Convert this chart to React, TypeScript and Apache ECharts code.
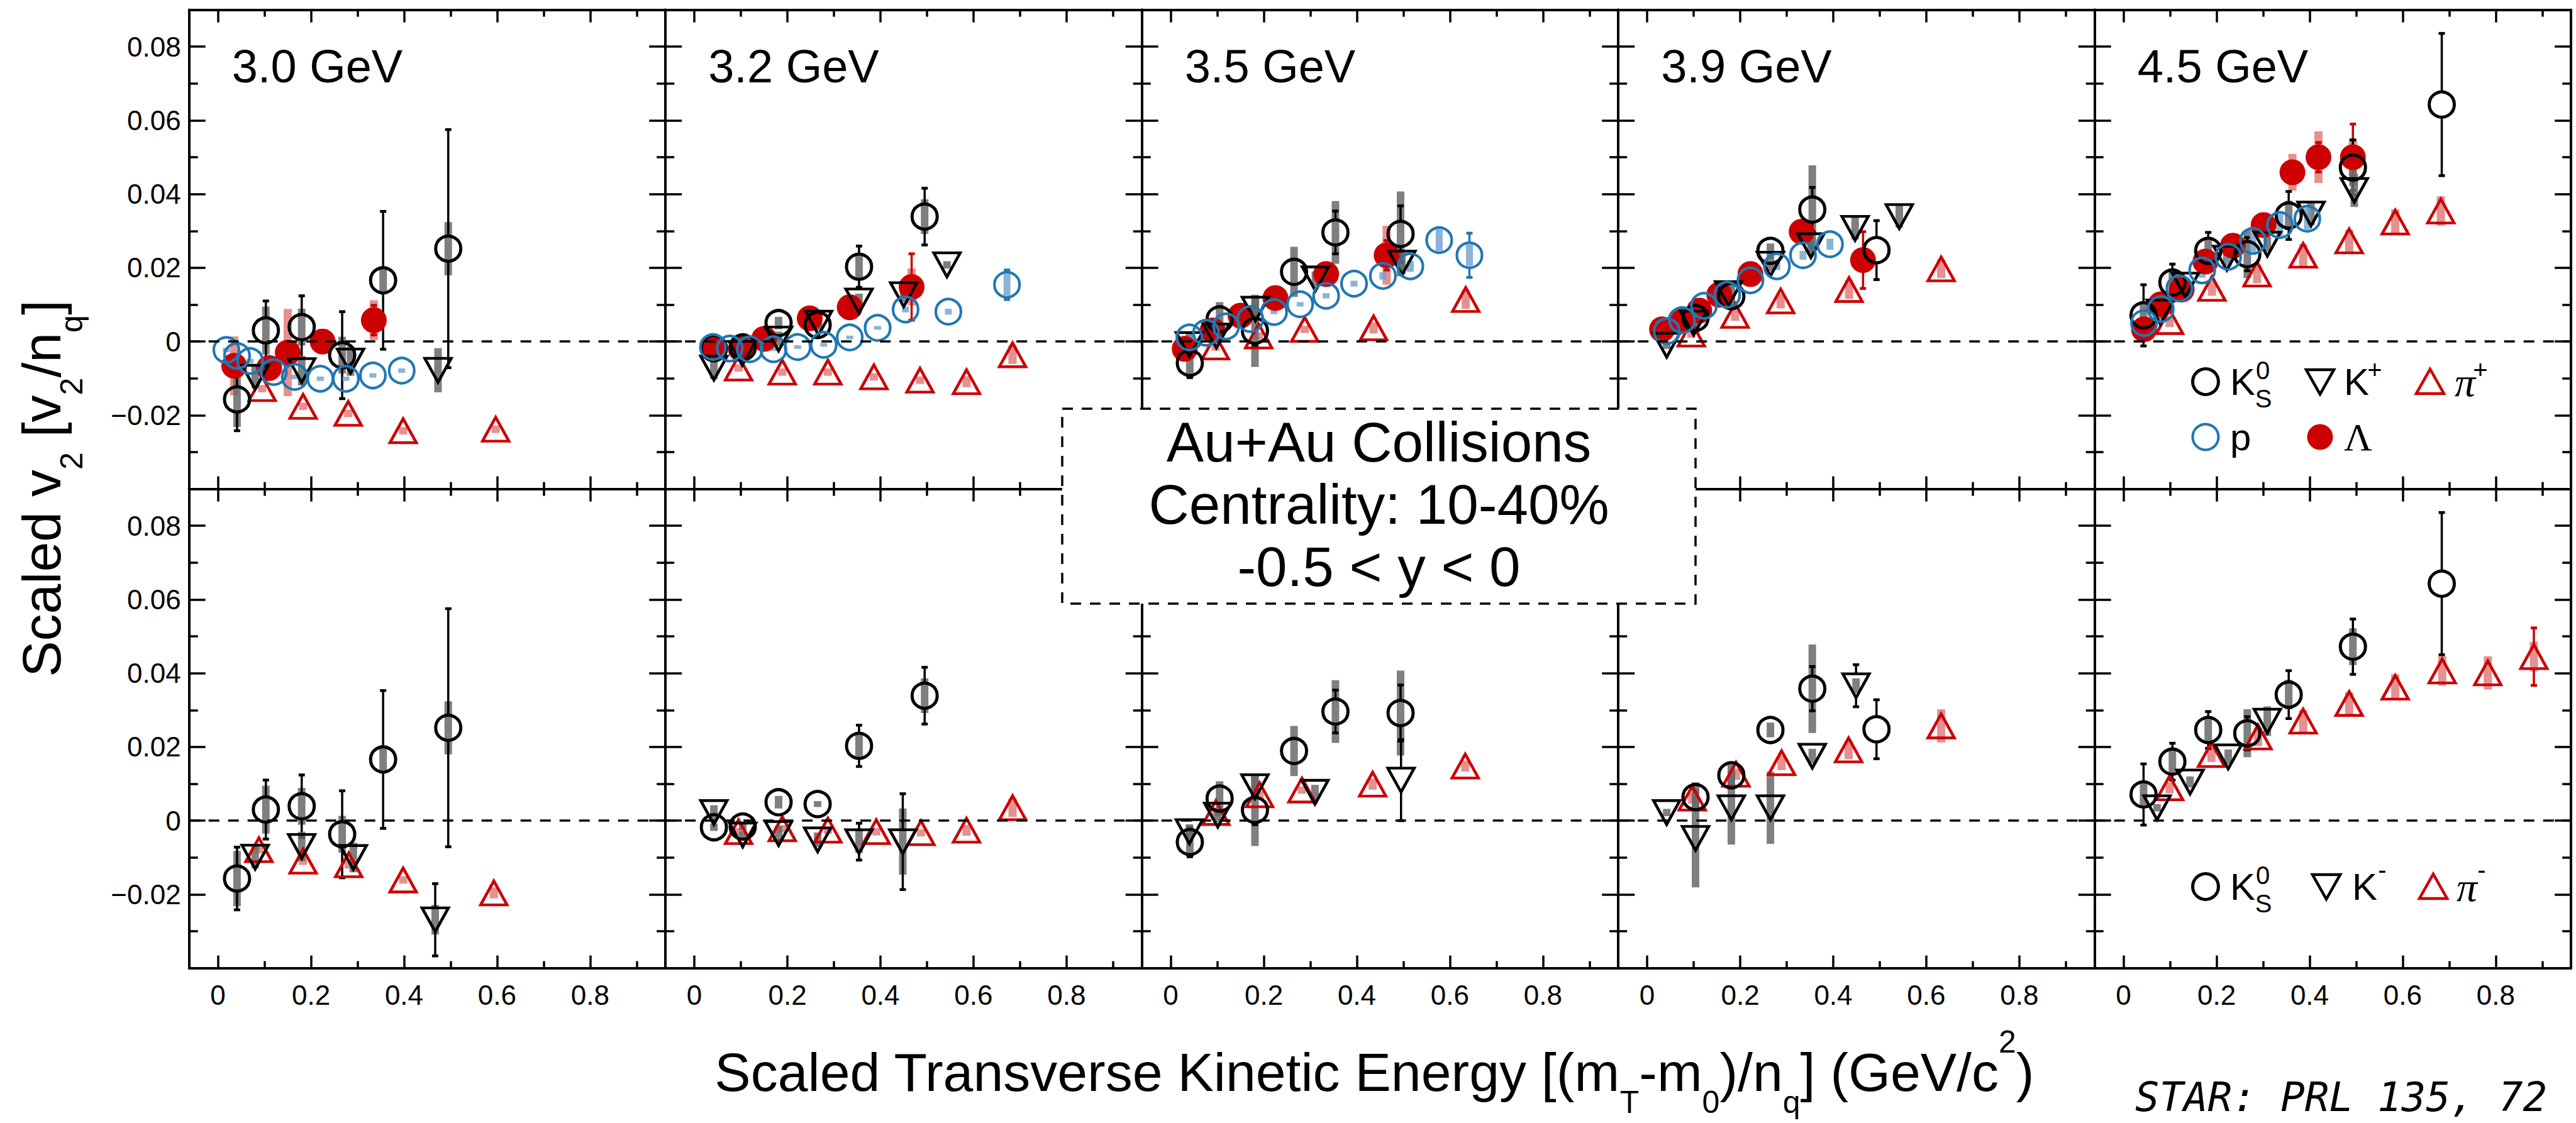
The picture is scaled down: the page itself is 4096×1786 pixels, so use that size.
import React, { useEffect, useRef } from 'react';
import * as echarts from 'echarts';

// ---------------- data: [x (GeV/c^2), v2/nq, stat err, sys err] ----------------
const K0S_30 = [[0.041, -0.0157, 0.0085, 0.0075], [0.103, 0.003, 0.008, 0.0065], [0.18, 0.0039, 0.0085, 0.005], [0.267, -0.0037, 0.0118, 0.005], [0.355, 0.0166, 0.0187, 0.003], [0.495, 0.0252, 0.0323, 0.0072]];
const K0S_32 = [[0.042, -0.0018, 0.001, 0.001], [0.104, -0.0016, 0.001, 0.001], [0.181, 0.005, 0.0012, 0.0017], [0.265, 0.0045, 0.0012, 0.0008], [0.354, 0.0203, 0.0056, 0.003], [0.495, 0.0339, 0.0077, 0.0047]];
const K0S_35 = [[0.041, -0.0058, 0.004, 0.004], [0.105, 0.006, 0.003, 0.0047], [0.181, 0.0029, 0.004, 0.0098], [0.265, 0.0189, 0.003, 0.0068], [0.354, 0.0296, 0.0058, 0.0085], [0.494, 0.0292, 0.0076, 0.0115]];
const K0S_39 = [[0.104, 0.0064, 0.002, 0.004], [0.181, 0.0123, 0.002, 0.003], [0.265, 0.0246, 0.0025, 0.002], [0.355, 0.0358, 0.006, 0.012], [0.493, 0.0248, 0.008, 0]];
const K0S_45 = [[0.043, 0.0071, 0.0083, 0.003], [0.105, 0.016, 0.005, 0.003], [0.182, 0.0246, 0.005, 0.003], [0.266, 0.0237, 0.0045, 0.0065], [0.355, 0.0342, 0.0065, 0.004], [0.493, 0.0472, 0.0075, 0.005], [0.684, 0.0643, 0.0193, 0]];

const KP_30 = [[0.08, -0.0097, 0.002, 0.003], [0.18, -0.0079, 0.003, 0.004], [0.285, -0.0053, 0.003, 0.004], [0.473, -0.0078, 0.003, 0.006]];
const KP_32 = [[0.042, -0.0072, 0.001, 0.003], [0.103, -0.0032, 0.001, 0.002], [0.181, 0.0007, 0.0015, 0.002], [0.267, 0.005, 0.0015, 0.002], [0.354, 0.011, 0.0025, 0.002], [0.45, 0.0127, 0.003, 0.002], [0.543, 0.0208, 0.003, 0.001]];
const KP_35 = [[0.04, -0.0008, 0.0015, 0.003], [0.098, 0.0015, 0.002, 0.002], [0.182, 0.0088, 0.002, 0.003], [0.311, 0.017, 0.002, 0.002], [0.497, 0.0213, 0.003, 0.003]];
const KP_39 = [[0.042, -0.001, 0.001, 0.001], [0.1, 0.005, 0.0015, 0.002], [0.175, 0.013, 0.0015, 0.002], [0.265, 0.021, 0.002, 0.002], [0.352, 0.026, 0.002, 0.002], [0.447, 0.0307, 0.002, 0.003], [0.542, 0.0339, 0.002, 0.003]];
const KP_45 = [[0.079, 0.008, 0.0015, 0.002], [0.133, 0.0153, 0.0015, 0.002], [0.222, 0.0226, 0.0015, 0.002], [0.309, 0.0264, 0.002, 0.002], [0.403, 0.0346, 0.002, 0.003], [0.496, 0.041, 0.002, 0.0045]];

const KM_30 = [[0.08, -0.0099, 0.002, 0.003], [0.18, -0.007, 0.003, 0.004], [0.291, -0.01, 0.003, 0.004], [0.467, -0.0269, 0.0098, 0.004]];
const KM_32 = [[0.042, 0.0022, 0.001, 0.002], [0.104, -0.0039, 0.001, 0.001], [0.181, -0.0035, 0.0015, 0.002], [0.265, -0.0052, 0.0015, 0.002], [0.354, -0.0057, 0.005, 0.003], [0.448, -0.0057, 0.013, 0.009]];
const KM_35 = [[0.04, -0.003, 0.0015, 0.002], [0.101, 0.0015, 0.003, 0.002], [0.181, 0.0092, 0.002, 0.003], [0.31, 0.0077, 0.002, 0.002], [0.495, 0.011, 0.011, 0]];
const KM_39 = [[0.042, 0.0022, 0.001, 0.001], [0.104, -0.0048, 0.002, 0.0133], [0.181, 0.0035, 0.002, 0.01], [0.265, 0.0035, 0.002, 0.0098], [0.355, 0.0175, 0.002, 0.002], [0.449, 0.0366, 0.0057, 0.002]];
const KM_45 = [[0.072, 0.0035, 0.001, 0.001], [0.143, 0.0105, 0.0015, 0.0015], [0.225, 0.0173, 0.0015, 0.002], [0.309, 0.027, 0.002, 0.004]];

const PIP_30 = [[0.095, -0.0128, 0.0005, 0.001], [0.183, -0.0176, 0.0005, 0.001], [0.28, -0.0195, 0.0005, 0.001], [0.398, -0.0242, 0.0005, 0.001], [0.597, -0.0238, 0.0005, 0.001]];
const PIP_32 = [[0.095, -0.0072, 0.0005, 0.001], [0.189, -0.0083, 0.0005, 0.001], [0.287, -0.0083, 0.0005, 0.001], [0.386, -0.0096, 0.0005, 0.001], [0.485, -0.0105, 0.0005, 0.001], [0.585, -0.0109, 0.0005, 0.0015], [0.684, -0.0036, 0.0005, 0.0025]];
const PIP_35 = [[0.096, -0.0015, 0.0005, 0.001], [0.189, 0.0015, 0.0005, 0.001], [0.288, 0.0033, 0.0005, 0.001], [0.436, 0.0037, 0.0005, 0.0015], [0.634, 0.0114, 0.0005, 0.0025]];
const PIP_39 = [[0.095, 0.002, 0.0005, 0.001], [0.189, 0.0071, 0.0005, 0.0015], [0.287, 0.011, 0.0005, 0.002], [0.434, 0.0141, 0.0005, 0.0025], [0.632, 0.0197, 0.0005, 0.0025]];
const PIP_45 = [[0.099, 0.0054, 0.0005, 0.0015], [0.19, 0.0144, 0.0005, 0.002], [0.287, 0.0183, 0.0005, 0.0025], [0.386, 0.0234, 0.0005, 0.003], [0.485, 0.0273, 0.0005, 0.003], [0.584, 0.0324, 0.0005, 0.0035], [0.682, 0.0354, 0.0005, 0.004]];

const PIM_30 = [[0.088, -0.0079, 0.0005, 0.001], [0.183, -0.011, 0.0005, 0.001], [0.281, -0.012, 0.0005, 0.001], [0.398, -0.0161, 0.0005, 0.001], [0.593, -0.0196, 0.0005, 0.0015]];
const PIM_32 = [[0.095, -0.003, 0.0005, 0.001], [0.189, -0.0022, 0.0005, 0.001], [0.287, -0.0026, 0.0005, 0.001], [0.391, -0.003, 0.0005, 0.001], [0.487, -0.0033, 0.0005, 0.001], [0.585, -0.0026, 0.0005, 0.0015], [0.684, 0.0035, 0.0005, 0.0025]];
const PIM_35 = [[0.097, 0.0022, 0.0005, 0.001], [0.191, 0.007, 0.0005, 0.001], [0.282, 0.0083, 0.0005, 0.001], [0.434, 0.0099, 0.0005, 0.0015], [0.633, 0.0148, 0.0005, 0.0015]];
const PIM_39 = [[0.097, 0.0061, 0.0005, 0.0015], [0.191, 0.0126, 0.0005, 0.0015], [0.289, 0.0157, 0.0005, 0.002], [0.433, 0.0192, 0.0005, 0.0025], [0.632, 0.0257, 0.0005, 0.0045]];
const PIM_45 = [[0.099, 0.0089, 0.0005, 0.0015], [0.189, 0.0179, 0.0005, 0.002], [0.289, 0.0227, 0.0005, 0.0025], [0.386, 0.027, 0.0005, 0.003], [0.485, 0.0318, 0.0005, 0.003], [0.584, 0.0362, 0.0005, 0.0035], [0.685, 0.0406, 0.001, 0.004], [0.783, 0.0401, 0.0015, 0.0045], [0.882, 0.0445, 0.0078, 0.004]];

const LAM_30 = [[0.035, -0.0066, 0.002, 0.008], [0.11, -0.0072, 0.002, 0.003], [0.15, -0.003, 0.003, 0.0118], [0.225, 0.0, 0.002, 0.002], [0.335, 0.0058, 0.004, 0.0054]];
const LAM_32 = [[0.04, -0.0015, 0.001, 0.001], [0.1, -0.002, 0.001, 0.001], [0.15, 0.0007, 0.001, 0.002], [0.248, 0.0063, 0.001, 0.002], [0.334, 0.0093, 0.001, 0.002], [0.467, 0.0148, 0.009, 0.005]];
const LAM_35 = [[0.03, -0.002, 0.001, 0.001], [0.09, 0.003, 0.001, 0.001], [0.15, 0.007, 0.001, 0.002], [0.225, 0.0118, 0.001, 0.002], [0.334, 0.0183, 0.002, 0.002], [0.464, 0.0234, 0.004, 0.008]];
const LAM_39 = [[0.032, 0.0033, 0.001, 0.001], [0.072, 0.0058, 0.001, 0.001], [0.112, 0.0084, 0.001, 0.001], [0.155, 0.0127, 0.001, 0.002], [0.222, 0.0183, 0.001, 0.002], [0.332, 0.0298, 0.002, 0.002], [0.464, 0.0221, 0.0077, 0.002]];
const LAM_45 = [[0.044, 0.0033, 0.001, 0.001], [0.08, 0.0101, 0.001, 0.001], [0.125, 0.0141, 0.001, 0.002], [0.176, 0.0217, 0.001, 0.002], [0.235, 0.026, 0.001, 0.002], [0.301, 0.0316, 0.002, 0.002], [0.363, 0.0459, 0.003, 0.005], [0.419, 0.05, 0.004, 0.007], [0.493, 0.05, 0.009, 0.005]];

const PROT_30 = [[0.018, -0.0023, 0.0005, 0.0006], [0.041, -0.0039, 0.0005, 0.0006], [0.069, -0.0053, 0.0005, 0.0006], [0.12, -0.0083, 0.0005, 0.0006], [0.165, -0.0096, 0.0005, 0.0006], [0.22, -0.0101, 0.0005, 0.0006], [0.275, -0.0101, 0.0005, 0.0006], [0.333, -0.0092, 0.0005, 0.0006], [0.395, -0.0079, 0.0005, 0.0006]];
const PROT_32 = [[0.04, -0.0015, 0.0005, 0.0005], [0.076, -0.0019, 0.0005, 0.0005], [0.119, -0.0021, 0.0005, 0.0005], [0.17, -0.0021, 0.0005, 0.0005], [0.222, -0.0015, 0.0005, 0.0005], [0.278, -0.0009, 0.0005, 0.0005], [0.334, 0.0011, 0.0005, 0.0005], [0.394, 0.0037, 0.0005, 0.0005], [0.454, 0.0087, 0.0005, 0.0008], [0.546, 0.0081, 0.0005, 0.0008], [0.672, 0.0154, 0.004, 0.003]];
const PROT_35 = [[0.04, 0.0011, 0.0005, 0.0005], [0.076, 0.0024, 0.0005, 0.0005], [0.119, 0.0041, 0.0005, 0.0005], [0.171, 0.0061, 0.0005, 0.0005], [0.222, 0.008, 0.0005, 0.0006], [0.278, 0.0101, 0.0005, 0.0006], [0.334, 0.0124, 0.0005, 0.0007], [0.394, 0.0157, 0.0005, 0.0008], [0.456, 0.0178, 0.0005, 0.001], [0.515, 0.0204, 0.0005, 0.0015], [0.577, 0.0275, 0.001, 0.003], [0.642, 0.0234, 0.006, 0.003]];
const PROT_39 = [[0.042, 0.0028, 0.0005, 0.0005], [0.075, 0.0058, 0.0005, 0.0005], [0.122, 0.0097, 0.0005, 0.0006], [0.172, 0.0127, 0.0005, 0.0007], [0.222, 0.0166, 0.0005, 0.0008], [0.279, 0.0204, 0.0005, 0.001], [0.335, 0.0234, 0.0005, 0.0012], [0.393, 0.0264, 0.0005, 0.0015]];
const PROT_45 = [[0.044, 0.005, 0.0005, 0.0008], [0.08, 0.0088, 0.0005, 0.001], [0.12, 0.0144, 0.0005, 0.0015], [0.169, 0.0193, 0.0005, 0.002], [0.225, 0.023, 0.0005, 0.0025], [0.278, 0.0273, 0.0005, 0.003], [0.336, 0.0316, 0.0005, 0.003], [0.395, 0.0333, 0.0005, 0.003]];

const ENERGY_LABELS = ['3.0 GeV', '3.2 GeV', '3.5 GeV', '3.9 GeV', '4.5 GeV'];
const X_MAJOR = [0, 0.2, 0.4, 0.6, 0.8];
const X_MINOR = [0.1, 0.3, 0.5, 0.7, 0.9];
const Y_MAJOR = [-0.02, 0, 0.02, 0.04, 0.06, 0.08];
const Y_MINOR = [-0.03, -0.01, 0.01, 0.03, 0.05, 0.07];

const K0S = [K0S_30, K0S_32, K0S_35, K0S_39, K0S_45];
const KP = [KP_30, KP_32, KP_35, KP_39, KP_45];
const KM = [KM_30, KM_32, KM_35, KM_39, KM_45];
const PIP = [PIP_30, PIP_32, PIP_35, PIP_39, PIP_45];
const PIM = [PIM_30, PIM_32, PIM_35, PIM_39, PIM_45];
const LAM = [LAM_30, LAM_32, LAM_35, LAM_39, LAM_45];
const PROT = [PROT_30, PROT_32, PROT_35, PROT_39, PROT_45];

// ---------------- layout / style ----------------
const W = 4096, H = 1786;
const FONT = '"Liberation Sans", Arial, Helvetica, sans-serif';
const SERIF = '"Liberation Serif", "Times New Roman", serif';
const X_MIN = -0.062, X_MAX = 0.962, Y_MIN = -0.04, Y_MAX = 0.09;
const GL = 300.7, GT = 15.6, PW = 757.5, PH = 762;
const RED = '#cc0000', BLUE = '#1f77b4';

type Sty = { symbol: string; size: any; rotate?: number; fill: string; stroke: string; lw: number; sys: string; stat: string; r: number; sysW: number };
const S_K0S: Sty = { symbol: 'circle', size: 40, fill: 'rgba(0,0,0,0)', stroke: '#000', lw: 5, sys: 'rgba(105,105,105,0.85)', stat: '#000', r: 22, sysW: 12 };
const S_KCH: Sty = { symbol: 'triangle', size: [42, 38], rotate: 180, fill: 'rgba(0,0,0,0)', stroke: '#000', lw: 4.5, sys: 'rgba(105,105,105,0.85)', stat: '#000', r: 20, sysW: 12 };
const S_PI: Sty = { symbol: 'triangle', size: [42, 38], fill: 'rgba(0,0,0,0)', stroke: RED, lw: 4.5, sys: 'rgba(215,70,70,0.6)', stat: RED, r: 20, sysW: 13 };
const S_LAM: Sty = { symbol: 'circle', size: 41, fill: RED, stroke: RED, lw: 0, sys: 'rgba(215,70,70,0.6)', stat: RED, r: 20, sysW: 13 };
const S_P: Sty = { symbol: 'circle', size: 40, fill: 'rgba(0,0,0,0)', stroke: BLUE, lw: 4.2, sys: 'rgba(110,160,205,0.8)', stat: BLUE, r: 22, sysW: 11 };

function errRender(st: Sty) {
  return (params: any, api: any) => {
    const x = api.value(0), y = api.value(1), se = api.value(2), sy = api.value(3);
    const c = api.coord([x, y]);
    const ch: any[] = [];
    if (sy > 0) {
      const t = api.coord([x, y + sy])[1], b = api.coord([x, y - sy])[1];
      ch.push({ type: 'rect', shape: { x: c[0] - st.sysW / 2, y: t, width: st.sysW, height: b - t }, style: { fill: st.sys } });
    }
    if (se > 0) {
      const t = api.coord([x, y + se])[1], b = api.coord([x, y - se])[1];
      if (c[1] - t > st.r) {
        ch.push({ type: 'line', shape: { x1: c[0], y1: t, x2: c[0], y2: c[1] - st.r }, style: { stroke: st.stat, lineWidth: 3.5 } });
        ch.push({ type: 'line', shape: { x1: c[0] - 5, y1: t, x2: c[0] + 5, y2: t }, style: { stroke: st.stat, lineWidth: 4.5 } });
      }
      if (b - c[1] > st.r) {
        ch.push({ type: 'line', shape: { x1: c[0], y1: c[1] + st.r, x2: c[0], y2: b }, style: { stroke: st.stat, lineWidth: 3.5 } });
        ch.push({ type: 'line', shape: { x1: c[0] - 5, y1: b, x2: c[0] + 5, y2: b }, style: { stroke: st.stat, lineWidth: 4.5 } });
      }
    }
    return { type: 'group', children: ch };
  };
}

function mkX(g: number, pos: string, ticks: number[], len: number, label: boolean, line: boolean) {
  return {
    type: 'value', gridIndex: g, position: pos, min: X_MIN, max: X_MAX,
    axisLine: { show: line, onZero: false, lineStyle: { color: '#000', width: 4 } },
    axisTick: { show: true, inside: true, length: len, customValues: ticks, lineStyle: { color: '#000', width: 3.5 } },
    axisLabel: { show: label, customValues: X_MAJOR, formatter: (v: number) => (Math.abs(v) < 1e-9 ? '0' : v.toFixed(1)), fontSize: 44, fontFamily: FONT, color: '#000', margin: 21 },
    splitLine: { show: false }, minorTick: { show: false },
  };
}
function mkY(g: number, pos: string, ticks: number[], len: number, label: boolean, line: boolean) {
  return {
    type: 'value', gridIndex: g, position: pos, min: Y_MIN, max: Y_MAX,
    axisLine: { show: line, onZero: false, lineStyle: { color: '#000', width: 4 } },
    axisTick: { show: true, inside: true, length: len, customValues: ticks, lineStyle: { color: '#000', width: 3.5 } },
    axisLabel: {
      show: label, customValues: Y_MAJOR, fontSize: 44, fontFamily: FONT, color: '#000', margin: 13,
      formatter: (v: number) => (Math.abs(v) < 1e-9 ? '0' : v < 0 ? '\u2212' + Math.abs(v).toFixed(2) : v.toFixed(2)),
    },
    splitLine: { show: false }, minorTick: { show: false },
  };
}

function speciesSeries(g: number, data: number[][], st: Sty) {
  return [
    { type: 'custom', xAxisIndex: 4 * g, yAxisIndex: 4 * g, data, renderItem: errRender(st), z: 2, silent: true, clip: false },
    {
      type: 'scatter', xAxisIndex: 4 * g, yAxisIndex: 4 * g, data: data.map((p) => [p[0], p[1]]), z: 3, silent: true,
      symbol: st.symbol, symbolSize: st.size, symbolRotate: st.rotate || 0,
      itemStyle: { color: st.fill, borderColor: st.stroke, borderWidth: st.lw, opacity: 1 },
    },
  ];
}

function txt(x: number, y: number, text: string, size: number, extra: any = {}) {
  return {
    type: 'text', z: 100, x, y,
    style: { text, fontSize: size, fontFamily: FONT, fill: '#000', align: 'left', verticalAlign: 'middle', textAlign: 'left', textVerticalAlign: 'middle', ...extra },
  };
}
function downTri(cx: number, cy: number, stroke: string) {
  return { type: 'polygon', z: 100, shape: { points: [[cx - 22, cy - 19], [cx + 22, cy - 19], [cx, cy + 20]] }, style: { fill: 'none', stroke, lineWidth: 4.5 } };
}
function upTri(cx: number, cy: number, stroke: string) {
  return { type: 'polygon', z: 100, shape: { points: [[cx - 22, cy + 19], [cx + 22, cy + 19], [cx, cy - 20]] }, style: { fill: 'none', stroke, lineWidth: 4.5 } };
}
function circ(cx: number, cy: number, stroke: string, fill: string, lw: number) {
  return { type: 'circle', z: 100, shape: { cx, cy, r: 20.5 }, style: { fill, stroke, lineWidth: lw } };
}

function buildOption() {
  const grid: any[] = [], xAxis: any[] = [], yAxis: any[] = [], series: any[] = [];
  for (let r = 0; r < 2; r++) {
    for (let c = 0; c < 5; c++) {
      const g = r * 5 + c;
      grid.push({ left: GL + c * PW, top: GT + r * PH, width: PW, height: PH, containLabel: false, outerBoundsMode: 'none' });
      xAxis.push(mkX(g, 'bottom', X_MAJOR, 20, r === 1, true));
      xAxis.push(mkX(g, 'bottom', X_MINOR, 11, false, false));
      xAxis.push(mkX(g, 'top', X_MAJOR, 20, false, true));
      xAxis.push(mkX(g, 'top', X_MINOR, 11, false, false));
      yAxis.push(mkY(g, 'left', Y_MAJOR, 26, c === 0, true));
      yAxis.push(mkY(g, 'left', Y_MINOR, 14, false, false));
      yAxis.push(mkY(g, 'right', Y_MAJOR, 26, false, true));
      yAxis.push(mkY(g, 'right', Y_MINOR, 14, false, false));
      // zero reference line
      series.push({
        type: 'scatter', xAxisIndex: 4 * g, yAxisIndex: 4 * g, data: [[0, 0]], symbolSize: 0, z: 1, silent: true,
        markLine: { silent: true, symbol: 'none', label: { show: false }, lineStyle: { color: '#000', width: 3.5, type: [17, 14] }, data: [{ yAxis: 0 }] },
      });
      if (r === 0) {
        series.push(...speciesSeries(g, PIP[c], S_PI));
        series.push(...speciesSeries(g, LAM[c], S_LAM));
        series.push(...speciesSeries(g, K0S[c], S_K0S));
        series.push(...speciesSeries(g, KP[c], S_KCH));
        series.push(...speciesSeries(g, PROT[c], S_P));
      } else {
        series.push(...speciesSeries(g, PIM[c], S_PI));
        series.push(...speciesSeries(g, K0S[c], S_K0S));
        series.push(...speciesSeries(g, KM[c], S_KCH));
      }
    }
  }

  const graphic: any[] = [];
  ENERGY_LABELS.forEach((e, c) => graphic.push(txt(GL + c * PW + 68, 105, e, 74)));

  // axis titles
  const subRich = {
    a: { fontSize: 86, fontFamily: FONT, fill: '#000', color: '#000', verticalAlign: 'middle' },
    s: { fontSize: 50, fontFamily: FONT, fill: '#000', color: '#000', padding: [96, 0, 0, 0], verticalAlign: 'middle' },
    u: { fontSize: 50, fontFamily: FONT, fill: '#000', color: '#000', padding: [0, 0, 96, 0], verticalAlign: 'middle' },
  };
  graphic.push({
    type: 'text', z: 100, x: 2185, y: 1705,
    style: { text: '{a|Scaled Transverse Kinetic Energy [(m}{s|T}{a|-m}{s|0}{a|)/n}{s|q}{a|] (GeV/c}{u|2}{a|)}', rich: subRich, align: 'center', verticalAlign: 'middle', textAlign: 'center', textVerticalAlign: 'middle', fontSize: 86, fontFamily: FONT, fill: '#000' },
  });
  graphic.push({
    type: 'text', z: 100, x: 66, y: 777, rotation: Math.PI / 2,
    style: { text: '{a|Scaled v}{s|2}{a| [v}{s|2}{a|/n}{s|q}{a|]}', rich: subRich, align: 'center', verticalAlign: 'middle', textAlign: 'center', textVerticalAlign: 'middle', fontSize: 86, fontFamily: FONT, fill: '#000' },
  });

  // central info box
  graphic.push({ type: 'rect', z: 100, shape: { x: 1689, y: 650, width: 1007, height: 310 }, style: { fill: '#fff', stroke: '#000', lineWidth: 3.5, lineDash: [17, 14] } });
  ['Au+Au Collisions', 'Centrality: 10-40%', '-0.5 < y < 0'].forEach((t, i) =>
    graphic.push(txt(2192.5, 703 + i * 99, t, 89, { align: 'center', textAlign: 'center' }))
  );

  // legend (top-right panel)
  const r1 = 607, r2 = 695, r3 = 1410;
  graphic.push(circ(3507, r1, '#000', 'none', 5));
  graphic.push(txt(3546, r1, 'K', 60));
  graphic.push(txt(3598, r1 - 18, '0', 40, { align: 'center', textAlign: 'center' }));
  graphic.push(txt(3599, r1 + 27, 'S', 40, { align: 'center', textAlign: 'center' }));
  graphic.push(downTri(3689, r1, '#000'));
  graphic.push(txt(3727, r1, 'K', 60));
  graphic.push(txt(3776, r1 - 19, '+', 40, { align: 'center', textAlign: 'center' }));
  graphic.push(upTri(3864, r1, RED));
  graphic.push(txt(3903, r1, '\u03c0', 66, { fontFamily: SERIF, fontStyle: 'italic' }));
  graphic.push(txt(3944, r1 - 19, '+', 40, { align: 'center', textAlign: 'center' }));
  graphic.push(circ(3507, r2, BLUE, 'none', 4.2));
  graphic.push(txt(3546, r2, 'p', 60));
  graphic.push(circ(3689, r2, RED, RED, 0));
  graphic.push(txt(3727, r2, '\u039b', 62, { fontFamily: SERIF }));
  // legend (bottom-right panel)
  graphic.push(circ(3507, r3, '#000', 'none', 5));
  graphic.push(txt(3546, r3, 'K', 60));
  graphic.push(txt(3598, r3 - 18, '0', 40, { align: 'center', textAlign: 'center' }));
  graphic.push(txt(3599, r3 + 27, 'S', 40, { align: 'center', textAlign: 'center' }));
  graphic.push(downTri(3699, r3, '#000'));
  graphic.push(txt(3740, r3, 'K', 60));
  graphic.push(txt(3788, r3 - 27, '-', 40, { align: 'center', textAlign: 'center' }));
  graphic.push(upTri(3869, r3, RED));
  graphic.push(txt(3906, r3, '\u03c0', 66, { fontFamily: SERIF, fontStyle: 'italic' }));
  graphic.push(txt(3946, r3 - 27, '-', 40, { align: 'center', textAlign: 'center' }));

  // reference note
  graphic.push(txt(3395, 1745, 'STAR: PRL 135, 72', 64, { fontFamily: '"DejaVu Sans Mono", monospace', fontStyle: 'italic' }));

  return {
    animation: false,
    backgroundColor: '#fff',
    textStyle: { fontFamily: FONT },
    grid, xAxis, yAxis, series, graphic,
  };
}

export default function App() {
  const ref = useRef<HTMLDivElement>(null);
  useEffect(() => {
    if (!ref.current) return;
    const chart = echarts.init(ref.current, null, { renderer: 'svg', width: W, height: H });
    chart.setOption(buildOption() as any);
    return () => chart.dispose();
  }, []);
  return <div ref={ref} style={{ position: 'fixed', left: 0, top: 0, width: W, height: H, background: '#fff' }} />;
}
